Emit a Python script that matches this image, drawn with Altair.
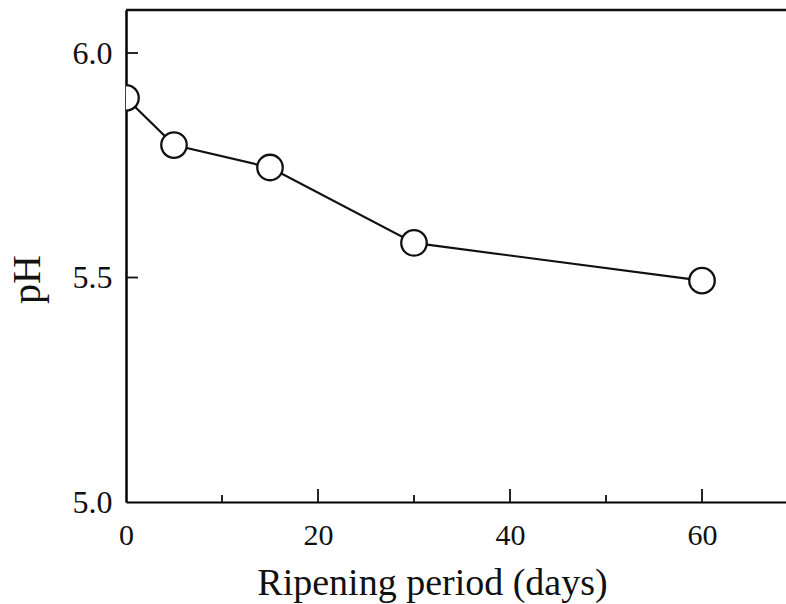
import altair as alt
import pandas as pd

days = [0, 5, 15, 30, 60]
ph = [5.90, 5.795, 5.745, 5.577, 5.493]

x_major_ticks = [20, 40, 60]
x_minor_ticks = [10, 30, 50]
y_major_ticks = [5.5, 6.0]
x_labels = [0, 20, 40, 60]
y_labels = [5.0, 5.5, 6.0]

W, H = 660, 492
FONT = "Liberation Serif"

df = pd.DataFrame({"days": days, "ph": ph})
xscale = alt.Scale(domain=[0, 68.75], nice=False, zero=False)
yscale = alt.Scale(domain=[5.0, 6.0958], nice=False, zero=False)

xaxis = alt.Axis(
    values=x_labels, ticks=False, grid=False, domain=True, domainColor="black",
    domainWidth=2.2, labelFont=FONT, labelFontSize=30, labelColor="#111",
    labelPadding=18, title="Ripening period (days)", titleFont=FONT,
    titleFontSize=38, titleFontWeight="normal", titleColor="#111",
    titleX=306, titleY=92, titleAlign="center", titleBaseline="alphabetic",
    labelFlush=False,
)
yaxis = alt.Axis(
    values=y_labels, format=".1f", ticks=False, grid=False, domain=True,
    domainColor="black", domainWidth=2.5, labelFont=FONT, labelFontSize=32,
    labelColor="#111", labelPadding=14, title="pH", titleFont=FONT,
    titleFontSize=40, titleFontWeight="normal", titleColor="#111",
    titleX=-99, titleY=269, titleAlign="center", titleBaseline="middle",
    titleAngle=-90, labelFlush=False,
)


def X(f):
    return alt.X(f, type="quantitative", scale=xscale, axis=xaxis)


def Y(f):
    return alt.Y(f, type="quantitative", scale=yscale, axis=yaxis)


line = alt.Chart(df).mark_line(color="#111", strokeWidth=2.2).encode(
    x=X("days"), y=Y("ph"),
)
points = alt.Chart(df).mark_point(
    shape="circle", filled=True, fill="white", stroke="#111", strokeWidth=2.3,
    size=650, opacity=1, clip=True,
).encode(x=X("days"), y=Y("ph"))

xmaj = alt.Chart(pd.DataFrame({"t": x_major_ticks})).mark_rule(color="#111", strokeWidth=1.8).encode(
    x=X("t"), y=alt.value(H), y2=alt.value(H - 13)
)
xmin = alt.Chart(pd.DataFrame({"t": x_minor_ticks})).mark_rule(color="#111", strokeWidth=1.8).encode(
    x=X("t"), y=alt.value(H), y2=alt.value(H - 7)
)
ymaj = alt.Chart(pd.DataFrame({"t": y_major_ticks})).mark_rule(color="#111", strokeWidth=1.8).encode(
    y=Y("t"), x=alt.value(0), x2=alt.value(12)
)
top = alt.Chart(pd.DataFrame({"a": [0]})).mark_rule(color="#111", strokeWidth=2.5).encode(
    x=alt.value(0), x2=alt.value(W), y=alt.value(0)
)

chart = alt.layer(line, xmaj, xmin, ymaj, top, points).properties(
    width=W, height=H,
    autosize=alt.AutoSizeParams(type="none"),
    padding={"left": 126, "top": 10, "right": 0, "bottom": 102},
).configure_view(stroke=None).configure(background="white")

chart.save("out.html", embed_options={"renderer": "svg", "actions": False})
